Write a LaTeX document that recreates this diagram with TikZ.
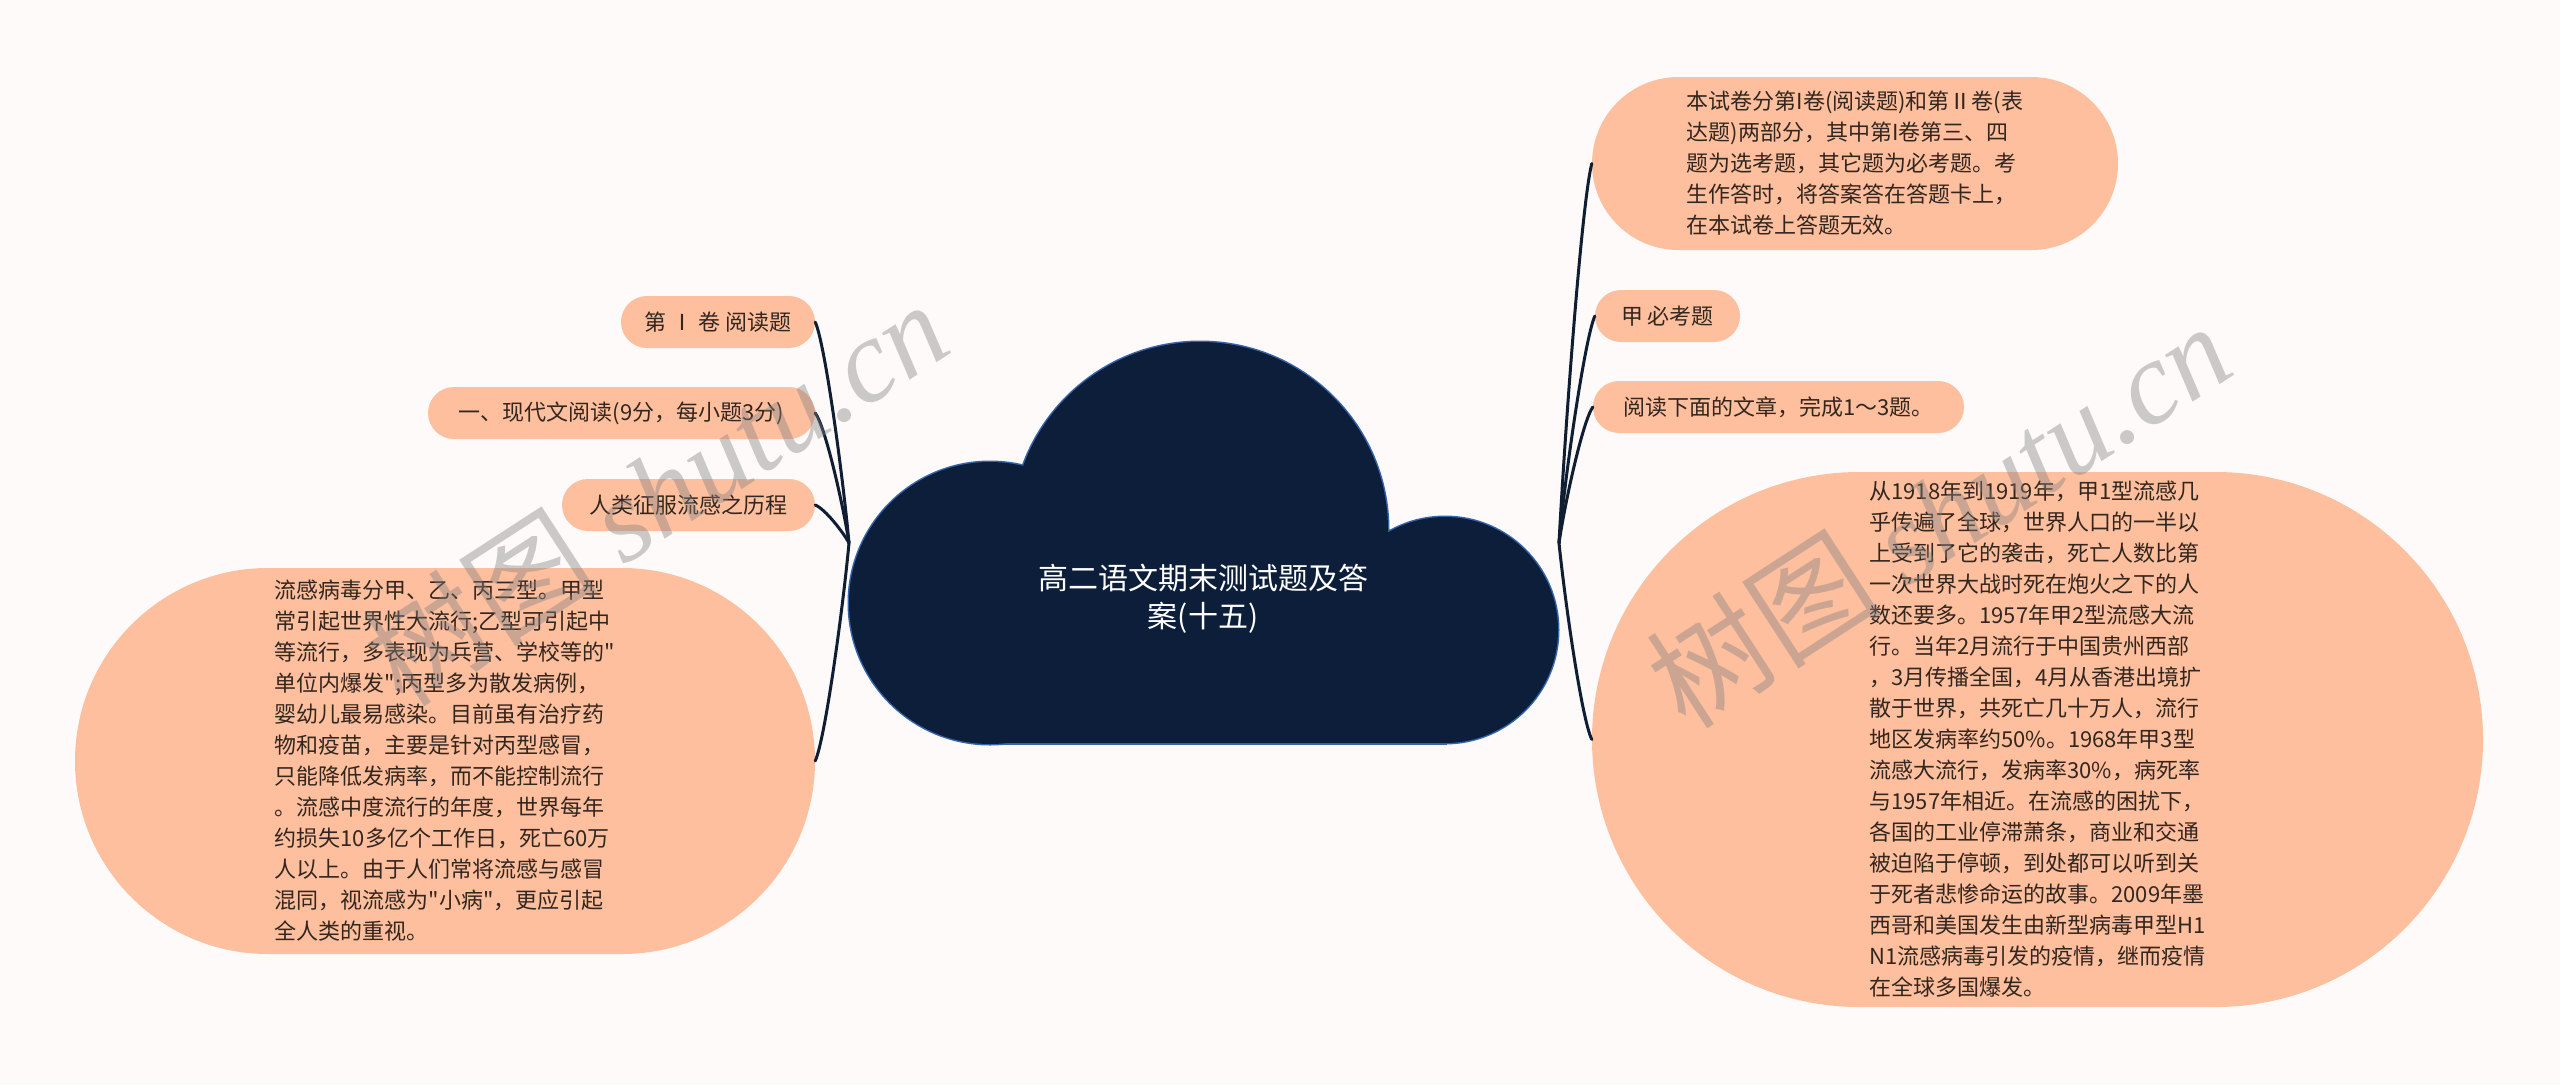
\documentclass[tikz,border=0pt]{standalone}
\usepackage{fontspec}
\newfontfamily\cjk{Noto Sans CJK SC}
\newfontfamily\wmlatin{Liberation Serif}
\usetikzlibrary{shapes.misc}
\definecolor{bgc}{RGB}{253,250,249}
\definecolor{pillc}{RGB}{253,191,158}
\definecolor{txtc}{RGB}{51,38,30}
\definecolor{navyc}{RGB}{12,30,58}
\definecolor{cloudedge}{RGB}{52,100,170}
\definecolor{connc}{RGB}{16,30,52}
\definecolor{wmc}{RGB}{128,128,128}
\begin{document}
\begin{tikzpicture}[x=1pt,y=-1pt,
  pill/.style={shape=rounded rectangle, fill=pillc, text=txtc, inner sep=0pt,
    font=\cjk\fontsize{22pt}{31pt}\selectfont, align=left},
  connline/.style={draw=connc, line width=3pt, line cap=round},
  titletext/.style={text=white, font=\cjk\fontsize{30pt}{38pt}\selectfont, align=center, inner sep=0pt},
  wmark/.style={text=wmc, opacity=0.4, inner sep=0pt, font=\cjk\fontsize{118pt}{118pt}\selectfont}
]
\fill[bgc] (0,0) rectangle (2560,1085);
\useasboundingbox (0,0) rectangle (2560,1085);

% cloud
\draw[cloudedge, line width=3pt] (990,603) circle[radius=141];
\draw[cloudedge, line width=3pt] (1200,530) circle[radius=188];
\draw[cloudedge, line width=3pt] (1445,630) circle[radius=113];
\draw[cloudedge, line width=3pt] (990,603) rectangle (1445,743);
\fill[navyc] (990,603) circle[radius=141];
\fill[navyc] (1200,530) circle[radius=188];
\fill[navyc] (1445,630) circle[radius=113];
\fill[navyc] (990,603) rectangle (1445,743);
\node[titletext] (root) at (1203,599) {高二语文期末测试题及答\\案(十五)};
\coordinate (rw) at (849,543);
\coordinate (re) at (1559,543);

% left nodes
\node[pill, minimum width=194pt, minimum height=52pt] (l1) at (718,322) {第 Ⅰ 卷 阅读题};
\node[pill, minimum width=387pt, minimum height=52pt] (l2) at (621.5,413) {一、现代文阅读(9分，每小题3分)};
\node[pill, minimum width=253pt, minimum height=52pt] (l3) at (688.5,505) {人类征服流感之历程};
\node[pill, minimum width=740pt, minimum height=386pt] (l4) at (445,761) {流感病毒分甲、乙、丙三型。甲型\\常引起世界性大流行;乙型可引起中\\等流行，多表现为兵营、学校等的"\\单位内爆发";丙型多为散发病例，\\婴幼儿最易感染。目前虽有治疗药\\物和疫苗，主要是针对丙型感冒，\\只能降低发病率，而不能控制流行\\。流感中度流行的年度，世界每年\\约损失10多亿个工作日，死亡60万\\人以上。由于人们常将流感与感冒\\混同，视流感为"小病"，更应引起\\全人类的重视。};

% right nodes
\node[pill, minimum width=526pt, minimum height=173pt] (r1) at (1855,163.5) {本试卷分第I卷(阅读题)和第Ⅱ卷(表\\达题)两部分，其中第I卷第三、四\\题为选考题，其它题为必考题。考\\生作答时，将答案答在答题卡上，\\在本试卷上答题无效。};
\node[pill, minimum width=145pt, minimum height=52pt] (r2) at (1667.5,316) {甲 必考题};
\node[pill, minimum width=371pt, minimum height=52pt] (r3) at (1778.5,407) {阅读下面的文章，完成1～3题。};
\node[pill, minimum width=891pt, minimum height=535pt] (r4) at (2037.5,739.5) {从1918年到1919年，甲1型流感几\\乎传遍了全球，世界人口的一半以\\上受到了它的袭击，死亡人数比第\\一次世界大战时死在炮火之下的人\\数还要多。1957年甲2型流感大流\\行。当年2月流行于中国贵州西部\\，3月传播全国，4月从香港出境扩\\散于世界，共死亡几十万人，流行\\地区发病率约50\%。1968年甲3型\\流感大流行，发病率30\%，病死率\\与1957年相近。在流感的困扰下，\\各国的工业停滞萧条，商业和交通\\被迫陷于停顿，到处都可以听到关\\于死者悲惨命运的故事。2009年墨\\西哥和美国发生由新型病毒甲型H1\\N1流感病毒引发的疫情，继而疫情\\在全球多国爆发。};

% connectors
\draw[connline] (l1.east) .. controls +(10,22) and +(-6,-66) .. (rw);
\draw[connline] (l2.east) .. controls +(10,13) and +(-6,-39) .. (rw);
\draw[connline] (l3.east) .. controls +(10,4) and +(-6,-11) .. (rw);
\draw[connline] (l4.east) .. controls +(10,-22) and +(-6,65) .. (rw);
\draw[connline] (r1.west) .. controls +(-10,38) and +(6,-114) .. (re);
\draw[connline] (r2.west) .. controls +(-10,23) and +(6,-68) .. (re);
\draw[connline] (r3.west) .. controls +(-10,14) and +(6,-41) .. (re);
\draw[connline] (r4.west) .. controls +(-10,-20) and +(6,59) .. (re);

% watermarks
\node[wmark, rotate=33] (wm1) at (655,492) {树图 {\wmlatin\itshape shutu.cn}};
\node[wmark, rotate=33] (wm2) at (1938,514) {树图 {\wmlatin\itshape shutu.cn}};
\end{tikzpicture}
\end{document}
